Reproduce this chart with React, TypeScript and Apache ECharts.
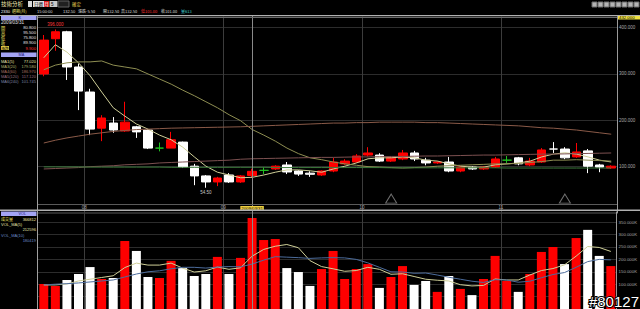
import React, { useEffect, useRef } from "react";
import * as echarts from "echarts";

const categories = [
  "2007/09", "2007/10", "2007/11", "2007/12",
  "2008/01", "2008/02", "2008/03", "2008/04", "2008/05", "2008/06", "2008/07", "2008/08", "2008/09", "2008/10", "2008/11", "2008/12",
  "2009/01", "2009/02", "2009/03", "2009/04", "2009/05", "2009/06", "2009/07", "2009/08", "2009/09", "2009/10", "2009/11", "2009/12",
  "2010/01", "2010/02", "2010/03", "2010/04", "2010/05", "2010/06", "2010/07", "2010/08", "2010/09", "2010/10", "2010/11", "2010/12",
  "2011/01", "2011/02", "2011/03", "2011/04", "2011/05", "2011/06", "2011/07", "2011/08", "2011/09", "2011/10",
];

const opens = [300, 376, 391, 315, 261, 183, 194, 177, 186, 179, 140, 140, 153, 101, 80, 67, 82, 67, 80.8, 92, 95, 103.6, 90.6, 86, 82, 90.6, 106, 110, 125, 125, 112, 116.5, 129.5, 114, 108, 110, 90.6, 99, 95, 99, 114, 119, 103.6, 110, 138, 138, 121, 134, 103.6, 97];
const closes = [373, 391, 315, 263, 181, 205, 179, 196, 175, 140, 140, 158, 99, 80, 67, 75.5, 67, 80, 89.9, 92, 101, 88.5, 84, 83.5, 90.6, 110, 112, 123, 129.5, 112, 119, 129.5, 116.5, 108, 110, 90.6, 99, 95, 99, 116.5, 114, 106, 112, 136, 138, 119, 131.7, 101, 99, 101];
const lows = [295, 350, 287, 222, 168, 155, 173, 175, 162, 138, 133, 140, 97, 60, 54.5, 58, 65, 65, 75.8, 84, 93, 84, 80, 78, 80, 88, 104, 108, 122, 110, 110, 114, 112, 103, 106, 88, 88, 93, 93, 97, 108, 103, 101, 108, 129.5, 116, 119, 86, 88, 95];
const highs = [384, 396, 393, 322, 268, 211, 207, 240, 188, 181, 152, 175, 154, 106, 82, 78, 86, 82, 95.5, 99, 103, 110, 92, 90, 92, 119, 116, 127, 142, 129, 123, 136, 134, 119, 112, 121, 101, 101, 101, 121, 123, 121, 119, 140, 153, 142, 151, 138, 106, 103];

const ma5 = [335, 363, 347, 324, 296, 261, 227, 209, 192, 181, 168, 158, 142, 121, 101, 88, 82, 76, 77, 82, 88, 93, 93, 91, 88, 95, 101, 108, 117, 119, 119, 121, 119, 114, 112, 106, 101, 99, 99, 104, 106, 108, 112, 121, 127, 130, 127, 121, 114, 110];
const ma20 = [309, 319, 324, 326, 326, 328, 319, 315, 311, 300, 289, 278, 265, 253, 240, 227, 212, 199, 180, 168, 155, 140, 128, 119, 115, 110, 106, 103, 100, 99, 98, 97, 98, 99, 101, 102, 103, 104, 105, 106, 106, 107, 109, 111, 114, 114, 115, 114, 113, 112];
const ma60 = [151, 157, 162, 166, 170, 173, 176, 178, 180, 181, 182, 183, 183.5, 184, 184.5, 185, 185.5, 186, 187, 188, 189, 190, 191, 192, 193, 194, 194, 195, 195, 196, 196, 196, 196, 195, 195, 194, 193, 192, 191, 190, 189, 188, 186, 184, 183, 181, 179, 176, 173, 170];
const ma120 = [95, 96, 97, 98, 100, 101, 102, 104, 105, 106, 108, 109, 110, 111, 112, 113, 114, 116, 117, 117.5, 118, 118.5, 119, 119.5, 120, 120, 120.5, 121, 121, 121.5, 122, 122, 122.5, 123, 123, 123.5, 124, 124.5, 125, 125, 125.5, 126, 126.5, 127, 127, 127.5, 128, 128.5, 129, 129.5];
const ma240 = [99.5, 99.5, 99.5, 99.5, 99, 99, 99, 99, 99, 99, 99, 98.5, 98.5, 98.5, 98.5, 98.5, 98.5, 98.5, 98.5, 98.5, 98, 98, 98, 98, 98, 98, 98, 98, 98, 98, 97.5, 97.5, 97.5, 97.5, 97.5, 97.5, 97.5, 97.5, 97.5, 97.5, 97, 97, 97, 97, 97, 97, 97, 97, 97, 97];

const volumes = [100.8, 92.7, 117, 141, 169, 121, 125, 274, 234, 129, 125, 194, 165, 133, 141, 210, 141, 206, 366.8, 278, 282, 165, 149, 93, 161, 234, 121, 161, 181, 85, 129, 173, 97, 113, 69, 133, 81, 56, 121, 214, 113, 69, 141, 230, 250, 181, 286, 319, 214, 173].map((v) => v * 1000);
const volMa5 = [97, 97, 101, 113, 120, 127, 134, 167, 185, 177, 177, 185, 165, 149, 154, 169, 160, 166, 213, 240, 253, 260, 247, 195, 171, 162, 152, 155, 168, 160, 140, 142, 131, 120, 116, 113, 98, 93, 95, 121, 117, 117, 137, 155, 163, 178, 213, 252, 248, 232].map((v) => v * 1000);
const volMa10 = [97, 100, 102, 105, 109, 113, 117, 129, 141, 150, 154, 162, 168, 168, 165, 169, 171, 170, 181, 197, 211, 209, 207, 204, 206, 207, 206, 200, 186, 168, 150, 149, 144, 145, 137, 128, 120, 112, 107, 118, 117, 108, 112, 126, 139, 147, 168, 191, 200, 198].map((v) => v * 1000);

const markerCats = ["2010/03", "2011/06"];
const markerValue = 31;
const cursorCat = "2009/03";
const cursorDate = "2009/03/31";

const NUM = '"Liberation Sans", Arial, sans-serif';
const CJK = '"Noto Sans CJK TC", "Noto Sans CJK SC", sans-serif';

const RED = "#ff0000";
const WHITE = "#ffffff";

function txt(x: number, y: number, text: string, fill: string, size = 4.5, align = "left", family = NUM, extra: any = {}) {
  return {
    type: "text",
    x,
    y,
    silent: true,
    z: 50,
    style: {
      text,
      fill,
      fontSize: size,
      fontFamily: family,
      align,
      textAlign: align,
      verticalAlign: "middle",
      textVerticalAlign: "middle",
      ...extra,
    },
  };
}
function rect(x: number, y: number, w: number, h: number, fill: string, stroke?: string) {
  return { type: "rect", silent: true, z: 40, shape: { x, y, width: w, height: h }, style: { fill, stroke: stroke || null, lineWidth: 1 } };
}
function line(x1: number, y1: number, x2: number, y2: number, stroke: string, w = 1) {
  return { type: "line", silent: true, z: 45, shape: { x1, y1, x2, y2 }, style: { stroke, lineWidth: w } };
}

export default function App() {
  const ref = useRef<HTMLDivElement>(null);
  useEffect(() => {
    document.body.style.margin = "0";
    document.body.style.background = "#000";
    if (!ref.current) return;
    const chart = echarts.init(ref.current, null, { renderer: "svg" });

    const isJan = (_i: number, v: string) => v.endsWith("/01");

    const candleData = categories.map((_, i) => {
      const item: any = { value: [opens[i], closes[i], lows[i], highs[i]] };
      if (i === 44) item.itemStyle = { borderColorDoji: "#ffffff" };
      return item;
    });
    const volData = volumes.map((v, i) => ({
      value: v,
      itemStyle: { color: closes[i] >= opens[i] ? RED : WHITE },
    }));

    let hiIdx = 0;
    let loIdx = 0;
    highs.forEach((h, i) => { if (h > highs[hiIdx]) hiIdx = i; });
    lows.forEach((l, i) => { if (l < lows[loIdx]) loIdx = i; });

    const lavender = "#a4a4f4";
    const graphics: any[] = [
      // toolbar row 1
      txt(1, 4, "技術分析", "#f0e8b0", 5.5, "left", CJK),
      rect(28, 1, 4, 6, "#d8d8d8"),
      rect(33, 1, 11, 6, "#e0e0e0"),
      txt(38.5, 4, "日週", "#000", 4.5, "center", CJK),
      rect(44, 1, 5, 6, "#e02020"),
      txt(46.5, 4, "月", "#fff", 4.5, "center", CJK),
      rect(49.5, 1, 8, 6, "#c8c8c8"),
      txt(51, 4, "5", "#000", 4.5),
      rect(58, 1, 11, 6, "#202020", "#606060"),
      txt(72, 4, "確定", "#e8d050", 4.5, "left", CJK),
      // toolbar row 2
      txt(1, 11, "2330", "#ffffff", 4),
      txt(12, 11, "週期(月)", "#f0e070", 4, "left", CJK),
      txt(37, 11, "15:00:00", "#dddddd", 4),
      txt(63, 11, "132.50", "#dddddd", 4),
      txt(78, 11, "漲跌-5.50", "#dddddd", 4, "left", CJK),
      txt(103, 11, "開132.50", "#dddddd", 4, "left", CJK),
      txt(121, 11, "高132.50", "#dddddd", 4, "left", CJK),
      txt(141, 11, "低101.00", "#ff3030", 4, "left", CJK),
      txt(161, 11, "收101.00", "#dddddd", 4, "left", CJK),
      txt(181, 11, "量613", "#40d0d0", 4, "left", CJK),
      // right toolbar icons
      ...Array.from({ length: 8 }, (_, k) => rect(592 + k * 6, 2, 5, 5, "#b4b4b4", "#6a6a6a")),
      // borders
      line(0, 15.5, 640, 15.5, "#b0b0b0"),
      line(38, 17.5, 617, 17.5, "#6a6a6a"),
      line(37.5, 15, 37.5, 309, "#a0a0a0"),
      line(38, 204.5, 617, 204.5, "#5a5a5a"),
      rect(0, 209.5, 640, 1.6, "#b0b0b0"),
      // yellow value box at top of price axis
      rect(618, 15, 22, 4.5, "#f0e040"),
      txt(619, 17.3, "432.000", "#000", 4.3),
      // left panel K block
      rect(1, 15.5, 35.5, 4.5, lavender),
      txt(18.5, 17.8, "K", "#202080", 4),
      txt(1, 22.5, cursorDate, "#e0e0e0", 4.6),
      txt(1, 27.5, "開", "#f0e060", 4.2, "left", CJK),
      txt(1, 32.5, "高", "#f0e060", 4.2, "left", CJK),
      txt(1, 37.5, "低", "#f0e060", 4.2, "left", CJK),
      txt(1, 42.5, "收", "#f0e060", 4.2, "left", CJK),
      rect(1, 46, 8, 4, "#d8c040"),
      txt(1.2, 48, "漲跌", "#000", 3.8, "left", CJK),
      txt(36, 27.5, "80.800", "#e0e0e0", 4.2, "right"),
      txt(36, 32.5, "95.500", "#e0e0e0", 4.2, "right"),
      txt(36, 37.5, "75.800", "#e0e0e0", 4.2, "right"),
      txt(36, 42.5, "89.900", "#e0e0e0", 4.2, "right"),
      txt(36, 48, "9.900", "#ff3030", 4.2, "right"),
      // MA block
      rect(1, 52.5, 35.5, 4.5, lavender),
      txt(18.5, 54.8, "MA", "#202080", 3.8),
      txt(1, 61, "MA1(5)", "#e0e0a8", 4),
      txt(36, 61, "77.020", "#e0e0a8", 4, "right"),
      txt(1, 66, "MA3(20)", "#b4b470", 4),
      txt(36, 66, "179.580", "#b4b470", 4, "right"),
      txt(1, 71, "MA4(60)", "#a87060", 4),
      txt(36, 71, "186.970", "#a87060", 4, "right"),
      txt(1, 76, "MA5(120)", "#9a7080", 4),
      txt(36, 76, "117.120", "#9a7080", 4, "right"),
      txt(1, 81, "MA6(240)", "#7a80a0", 4),
      txt(36, 81, "101.745", "#7a80a0", 4, "right"),
      // VOL block
      rect(1, 211.5, 35.5, 4.5, lavender),
      txt(18.5, 213.8, "VOL", "#202080", 3.8),
      txt(1, 219, "成交量", "#f0e060", 4, "left", CJK),
      txt(36, 219, "366812", "#f0e0a0", 4, "right"),
      txt(1, 224.5, "VOL_MA(5)", "#e0e0a8", 4),
      txt(36, 229.5, "212596", "#e0e0a8", 4, "right"),
      txt(1, 235, "VOL_MA(10)", "#6a8ac8", 4),
      txt(36, 240, "180419", "#6a8ac8", 4, "right"),
      // watermark
      {
        type: "text",
        x: 639,
        y: 301,
        silent: true,
        z: 100,
        style: {
          text: "#80127",
          fill: "#ffffff",
          stroke: "#000000",
          lineWidth: 2,
          fontSize: 15,
          fontFamily: NUM,
          align: "right",
          textAlign: "right",
          verticalAlign: "middle",
          textVerticalAlign: "middle",
        },
      },
    ];

    const axisLabelBase = { color: "#a8a8a8", fontSize: 4.5, fontFamily: NUM, margin: 2 };

    const option: any = {
      backgroundColor: "#000000",
      animation: false,
      grid: [
        { left: 38, right: 23, top: 16, height: 197 },
        { left: 38, right: 23, top: 212, height: 97 },
      ],
      xAxis: [
        {
          type: "category",
          gridIndex: 0,
          data: categories,
          boundaryGap: true,
          axisLine: { show: false },
          axisTick: { show: false },
          axisLabel: { show: false },
          splitLine: { show: true, interval: isJan, lineStyle: { color: "#3c3c3c", width: 1 } },
        },
        {
          type: "category",
          gridIndex: 1,
          data: categories,
          position: "top",
          boundaryGap: true,
          axisLine: { show: false },
          axisTick: { show: false },
          axisLabel: {
            show: true,
            interval: isJan,
            formatter: (v: string) => v.slice(2, 4),
            ...axisLabelBase,
            margin: 2.5,
            padding: [0, 11.6, 0, 0],
          },
          splitLine: { show: true, interval: isJan, lineStyle: { color: "#3c3c3c", width: 1 } },
        },
      ],
      yAxis: [
        {
          type: "value",
          gridIndex: 0,
          position: "right",
          min: 0,
          max: 425,
          interval: 100,
          axisLine: { show: true, lineStyle: { color: "#9a9a9a" } },
          axisTick: { show: false },
          axisLabel: { ...axisLabelBase, formatter: (v: number) => v.toFixed(3), showMinLabel: false, showMaxLabel: false },
          splitLine: { show: true, lineStyle: { color: "#2c2c2c" } },
        },
        {
          type: "value",
          gridIndex: 1,
          position: "right",
          min: 0,
          max: 391000,
          interval: 50000,
          axisLine: { show: true, lineStyle: { color: "#9a9a9a" } },
          axisTick: { show: false },
          axisLabel: {
            ...axisLabelBase,
            fontSize: 4.3,
            formatter: (v: number) => (v < 100000 ? "" : (v / 1000).toFixed(3) + "K"),
            showMinLabel: false,
            showMaxLabel: false,
          },
          splitLine: { show: true, lineStyle: { color: "#2c2c2c" } },
        },
      ],
      graphic: graphics,
      series: [
        {
          type: "candlestick",
          name: "K",
          xAxisIndex: 0,
          yAxisIndex: 0,
          data: candleData,
          barWidth: 9,
          itemStyle: {
            color: RED,
            color0: WHITE,
            borderColor: RED,
            borderColor0: WHITE,
            borderColorDoji: "#20c020",
            borderWidth: 1,
          },
          markPoint: {
            symbol: "rect",
            symbolSize: 1,
            itemStyle: { color: "rgba(0,0,0,0)" },
            silent: true,
            data: [
              {
                coord: [categories[hiIdx], highs[hiIdx]],
                label: { show: true, formatter: highs[hiIdx].toFixed(3), position: "top", distance: 1.5, color: "#ff3a3a", fontSize: 4.5, fontFamily: NUM },
              },
              {
                coord: [categories[loIdx], lows[loIdx]],
                label: { show: true, formatter: lows[loIdx].toFixed(2), position: "bottom", distance: 2, color: "#c8c8c8", fontSize: 4.5, fontFamily: NUM },
              },
            ],
          },
          markLine: {
            silent: true,
            symbol: "none",
            animation: false,
            lineStyle: { color: "#8a8a8a", width: 1, type: "solid" },
            label: { show: false },
            data: [{ xAxis: cursorCat }],
          },
        },
        { type: "line", name: "MA5", xAxisIndex: 0, yAxisIndex: 0, data: ma5, showSymbol: false, lineStyle: { color: "#cfcf98", width: 1 }, z: 3 },
        { type: "line", name: "MA20", xAxisIndex: 0, yAxisIndex: 0, data: ma20, showSymbol: false, lineStyle: { color: "#8e8e52", width: 1 }, z: 3 },
        { type: "line", name: "MA60", xAxisIndex: 0, yAxisIndex: 0, data: ma60, showSymbol: false, lineStyle: { color: "#8a5a48", width: 1 }, z: 3 },
        { type: "line", name: "MA120", xAxisIndex: 0, yAxisIndex: 0, data: ma120, showSymbol: false, lineStyle: { color: "#7c5050", width: 1 }, z: 3 },
        { type: "line", name: "MA240", xAxisIndex: 0, yAxisIndex: 0, data: ma240, showSymbol: false, lineStyle: { color: "#3c7a3c", width: 1 }, z: 3 },
        {
          type: "scatter",
          name: "marks",
          xAxisIndex: 0,
          yAxisIndex: 0,
          data: markerCats.map((c) => [c, markerValue]),
          symbol: "triangle",
          symbolSize: [11, 9],
          itemStyle: { color: "rgba(0,0,0,0)", borderColor: "#8c8c8c", borderWidth: 1 },
          silent: true,
        },
        {
          type: "bar",
          name: "VOL",
          xAxisIndex: 1,
          yAxisIndex: 1,
          data: volData,
          barWidth: 9,
          markLine: {
            silent: true,
            symbol: "none",
            animation: false,
            lineStyle: { color: "#8a8a8a", width: 1, type: "solid" },
            label: {
              show: true,
              position: "end",
              formatter: cursorDate,
              color: "#000",
              backgroundColor: "#f0d040",
              fontSize: 4.3,
              fontFamily: NUM,
              padding: [0.5, 1],
              distance: 1,
            },
            data: [{ xAxis: cursorCat }],
          },
        },
        { type: "line", name: "VOL_MA5", xAxisIndex: 1, yAxisIndex: 1, data: volMa5, showSymbol: false, lineStyle: { color: "#cfcf98", width: 1 }, z: 3 },
        { type: "line", name: "VOL_MA10", xAxisIndex: 1, yAxisIndex: 1, data: volMa10, showSymbol: false, lineStyle: { color: "#4c6c9c", width: 1 }, z: 3 },
      ],
    };

    chart.setOption(option);
    return () => chart.dispose();
  }, []);

  return <div ref={ref} style={{ width: 640, height: 309, background: "#000" }} />;
}
